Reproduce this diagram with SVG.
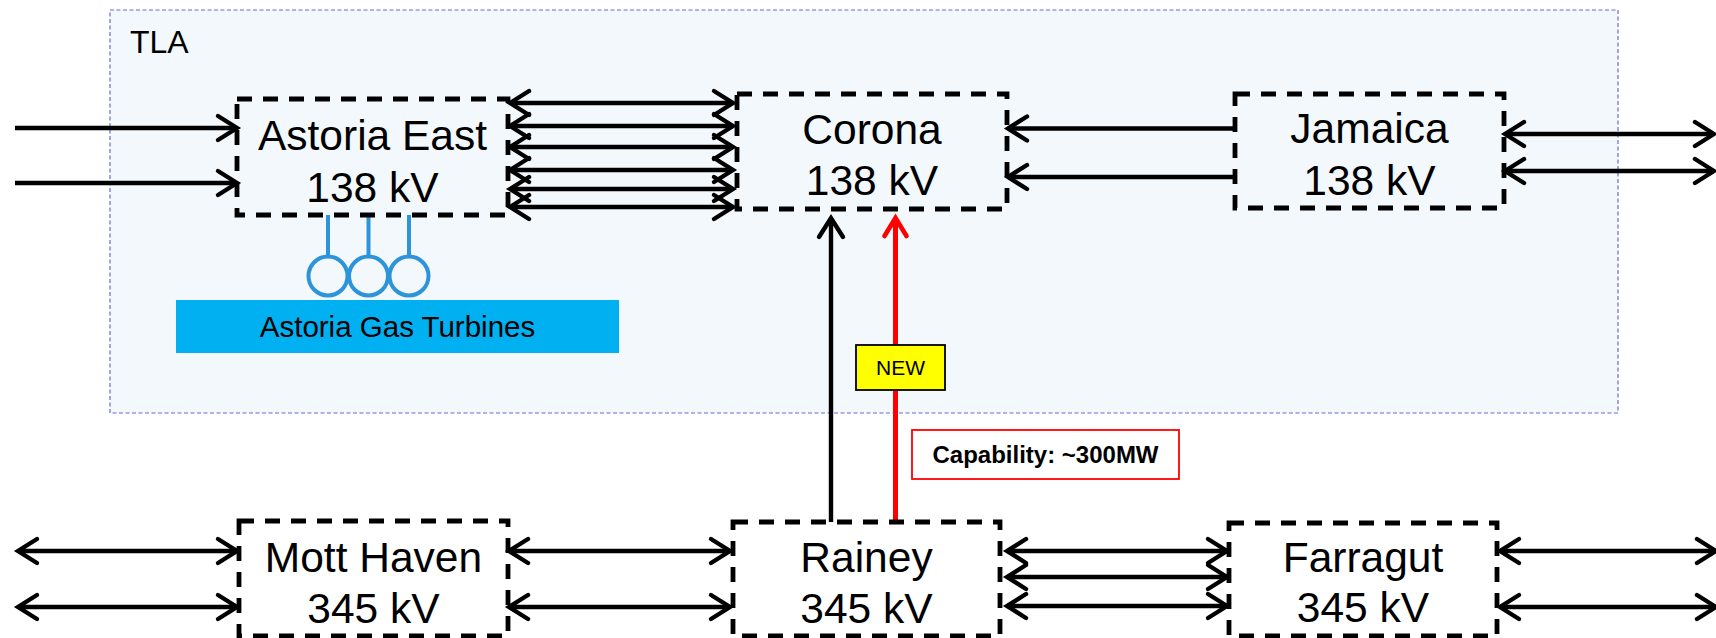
<svg xmlns="http://www.w3.org/2000/svg" width="1716" height="638" viewBox="0 0 1716 638">
  <style>
    .t { font-family: "Liberation Sans", Arial, sans-serif; fill: #000; }
    .node { fill: none; stroke: #000; stroke-width: 4.8; stroke-dasharray: 15 11; }
    .lbl { font-size: 42.5px; text-anchor: middle; }
    .ln { stroke: #000; stroke-width: 4.4; fill: none; }
    .bi { marker-start: url(#ah); marker-end: url(#ah); }
    .one { marker-end: url(#ah); }
    .gen { stroke: #2E94DA; stroke-width: 4; fill: none; }
  </style>
  <defs>
    <marker id="ah" markerUnits="userSpaceOnUse" viewBox="-25 -15 30 30" markerWidth="30" markerHeight="30" refX="-2" refY="0" orient="auto-start-reverse" overflow="visible">
      <path d="M-19,-12 L0,0 L-19,12" fill="none" stroke="#000" stroke-width="4.4" stroke-linecap="round" stroke-linejoin="miter"/>
    </marker>
    <marker id="ahr" markerUnits="userSpaceOnUse" viewBox="-25 -15 30 30" markerWidth="30" markerHeight="30" refX="-2" refY="0" orient="auto" overflow="visible">
      <path d="M-18,-11 L0,0 L-18,11" fill="none" stroke="#FF0000" stroke-width="4.6" stroke-linecap="round" stroke-linejoin="miter"/>
    </marker>
  </defs>

  <rect width="1716" height="638" fill="#FFFFFF"/>

  <g id="tla">
    <rect x="110" y="10" width="1508" height="403" fill="#F3F8FC" stroke="#6B6BD0" stroke-width="1.2" stroke-dasharray="4 2.5"/>
    <text class="t" x="130" y="53" font-size="32">TLA</text>
  </g>

  <g id="turbines">
    <rect x="176" y="300" width="443" height="53" fill="#00B0F0"/>
    <text class="t" x="397.5" y="337" font-size="29.5" text-anchor="middle">Astoria Gas Turbines</text>
    <line class="gen" x1="328" y1="215" x2="328" y2="255"/>
    <line class="gen" x1="368.5" y1="215" x2="368.5" y2="255"/>
    <line class="gen" x1="409" y1="215" x2="409" y2="255"/>
    <circle class="gen" cx="328" cy="276" r="19.5"/>
    <circle class="gen" cx="368.5" cy="276" r="19.5"/>
    <circle class="gen" cx="409" cy="276" r="19.5"/>
  </g>

  <g id="connectors">
    <line class="ln one" x1="15" y1="128" x2="235" y2="128"/>
    <line class="ln one" x1="15" y1="183" x2="235" y2="183"/>

    <line class="ln bi" x1="512" y1="103" x2="731" y2="103"/>
    <line class="ln bi" x1="512" y1="126" x2="731" y2="126"/>
    <line class="ln bi" x1="512" y1="147" x2="731" y2="147"/>
    <line class="ln bi" x1="512" y1="170" x2="731" y2="170"/>
    <line class="ln bi" x1="512" y1="189" x2="731" y2="189"/>
    <line class="ln bi" x1="512" y1="207" x2="731" y2="207"/>

    <line class="ln one" x1="1235" y1="128.5" x2="1010" y2="128.5"/>
    <line class="ln one" x1="1235" y1="177" x2="1010" y2="177"/>

    <line class="ln bi" x1="1507" y1="134" x2="1712" y2="134"/>
    <line class="ln bi" x1="1507" y1="171" x2="1712" y2="171"/>

    <line class="ln bi" x1="20" y1="551" x2="235" y2="551"/>
    <line class="ln bi" x1="20" y1="607" x2="235" y2="607"/>

    <line class="ln bi" x1="511" y1="551" x2="728" y2="551"/>
    <line class="ln bi" x1="511" y1="607" x2="728" y2="607"/>

    <line class="ln bi" x1="1009" y1="551" x2="1225" y2="551"/>
    <line class="ln bi" x1="1009" y1="577" x2="1225" y2="577"/>
    <line class="ln bi" x1="1009" y1="606" x2="1225" y2="606"/>

    <line class="ln bi" x1="1502" y1="551" x2="1714" y2="551"/>
    <line class="ln bi" x1="1502" y1="607" x2="1714" y2="607"/>

    <line class="ln one" x1="831" y1="522" x2="831" y2="220"/>
    <line x1="895.5" y1="522" x2="895.5" y2="220" stroke="#FF0000" stroke-width="5" marker-end="url(#ahr)"/>
  </g>

  <g id="new-label">
    <rect x="856" y="345" width="89" height="45" fill="#FFFF00" stroke="#000" stroke-width="1.8"/>
    <text class="t" x="900.5" y="375" font-size="21" text-anchor="middle">NEW</text>
  </g>

  <g id="capability">
    <rect x="912" y="430" width="267" height="49" fill="#FFFFFF" stroke="#FF0000" stroke-width="1.8"/>
    <text class="t" x="1045.5" y="463" font-size="24" font-weight="bold" text-anchor="middle">Capability: ~300MW</text>
  </g>

  <g id="astoria-east">
    <rect class="node" x="237" y="99" width="271" height="116"/>
    <text class="t lbl" x="372.5" y="150">Astoria East</text>
    <text class="t lbl" x="372.5" y="202">138 kV</text>
  </g>

  <g id="corona">
    <rect class="node" x="737" y="94" width="270" height="115"/>
    <text class="t lbl" x="872" y="144">Corona</text>
    <text class="t lbl" x="872" y="195">138 kV</text>
  </g>

  <g id="jamaica">
    <rect class="node" x="1235" y="94" width="269" height="114"/>
    <text class="t lbl" x="1369.5" y="143">Jamaica</text>
    <text class="t lbl" x="1369.5" y="195">138 kV</text>
  </g>

  <g id="mott-haven">
    <rect class="node" x="239" y="521" width="269" height="115"/>
    <text class="t lbl" x="373.5" y="572">Mott Haven</text>
    <text class="t lbl" x="373.5" y="623">345 kV</text>
  </g>

  <g id="rainey">
    <rect class="node" x="733" y="522" width="267" height="114"/>
    <text class="t lbl" x="866.5" y="572">Rainey</text>
    <text class="t lbl" x="866.5" y="623">345 kV</text>
  </g>

  <g id="farragut">
    <rect class="node" x="1229" y="523" width="268" height="113"/>
    <text class="t lbl" x="1363" y="572">Farragut</text>
    <text class="t lbl" x="1363" y="622">345 kV</text>
  </g>
</svg>
